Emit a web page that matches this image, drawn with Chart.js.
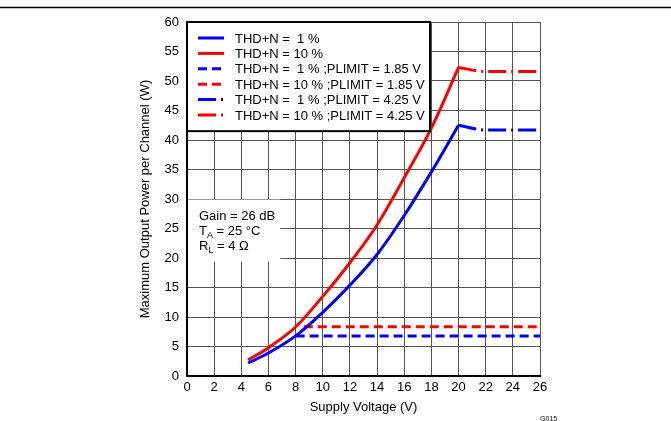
<!DOCTYPE html>
<html>
<head>
<meta charset="utf-8">
<script src="https://cdn.jsdelivr.net/npm/chart.js@4/dist/chart.umd.min.js"></script>
<style>
  html, body { margin: 0; padding: 0; background: #fff; }
  #wrap { width: 671px; height: 421px; }
</style>
</head>
<body>
<div id="wrap"><canvas id="power-chart" width="671" height="421"></canvas></div>
<script>
// supply voltage (V) and max output power (W)
const vCurve = [4.5, 6, 8, 10, 12, 14, 16, 18, 20];
const thd1 = [2.2, 3.9, 6.8, 10.8, 15.4, 20.6, 27.2, 34.6, 42.5];
const thd10 = [2.7, 4.8, 8.3, 13.5, 19.2, 25.6, 33.6, 42, 52.3];

const vLim185 = [8, 26];
const thd1Lim185 = [6.8, 6.8];
const vLim185b = [8.6, 26];
const thd10Lim185 = [8.35, 8.35];

const vLim425 = [20, 22, 26];
const thd1Lim425 = [42.5, 41.7, 41.7];
const thd10Lim425 = [52.3, 51.6, 51.6];

const xTicks = [0, 2, 4, 6, 8, 10, 12, 14, 16, 18, 20, 22, 24, 26];
const yTicks = [0, 5, 10, 15, 20, 25, 30, 35, 40, 45, 50, 55, 60];

const labels = [
  'THD+N =  1 %',
  'THD+N = 10 %',
  'THD+N =  1 % ;PLIMIT = 1.85 V',
  'THD+N = 10 % ;PLIMIT = 1.85 V',
  'THD+N =  1 % ;PLIMIT = 4.25 V',
  'THD+N = 10 % ;PLIMIT = 4.25 V'
];

const BLUE = '#0000ff';
const RED = '#ff0000';
const FONT = 'Liberation Sans, Arial, sans-serif';

function pts(xs, ys) {
  return xs.map((x, i) => ({x: x, y: ys[i]}));
}

function line(label, xs, ys, color, dash) {
  return {
    label: label,
    data: pts(xs, ys),
    borderColor: color,
    backgroundColor: color,
    borderWidth: 3,
    borderDash: dash,
    pointRadius: 0,
    showLine: true,
    fill: false,
    cubicInterpolationMode: 'monotone'
  };
}

const dashShort = [9, 5];
const dashDot = [18, 5, 2, 5];

// legend box + notes drawn on top of the grid
const extras = {
  id: 'extras',
  afterDatasetsDraw(chart) {
    const {ctx, scales: {x, y}} = chart;
    ctx.save();

    // conditions box
    const bx0 = x.getPixelForValue(0), bx1 = x.getPixelForValue(6.8);
    const by0 = y.getPixelForValue(29.9), by1 = y.getPixelForValue(19.4);
    ctx.fillStyle = '#fff';
    ctx.fillRect(bx0 + 1, by0, bx1 - bx0, by1 - by0);
    ctx.fillStyle = '#000';
    ctx.textBaseline = 'alphabetic';
    ctx.textAlign = 'left';
    ctx.font = '13px ' + FONT;
    const tx = 199;
    ctx.fillText('Gain = 26 dB', tx, 220);
    let w;
    ctx.fillText('T', tx, 235);
    w = ctx.measureText('T').width;
    ctx.font = '9px ' + FONT;
    ctx.fillText('A', tx + w, 238);
    w += ctx.measureText('A').width;
    ctx.font = '13px ' + FONT;
    ctx.fillText(' = 25 °C', tx + w, 235);
    ctx.fillText('R', tx, 250);
    w = ctx.measureText('R').width;
    ctx.font = '9px ' + FONT;
    ctx.fillText('L', tx + w, 253);
    w += ctx.measureText('L').width;
    ctx.font = '13px ' + FONT;
    ctx.fillText(' = 4 Ω', tx + w, 250);

    // legend box
    const lx0 = x.getPixelForValue(0), lx1 = x.getPixelForValue(17.9);
    const ly0 = y.getPixelForValue(60), ly1 = y.getPixelForValue(41.5);
    ctx.fillStyle = '#fff';
    ctx.fillRect(lx0, ly0, lx1 - lx0, ly1 - ly0);
    ctx.strokeStyle = '#000';
    ctx.lineWidth = 2;
    ctx.setLineDash([]);
    ctx.strokeRect(lx0, ly0, lx1 - lx0, ly1 - ly0);
    chart.data.datasets.forEach((ds, i) => {
      const cy = 38 + i * 15.4;
      ctx.strokeStyle = ds.borderColor;
      ctx.lineWidth = 3;
      ctx.setLineDash(ds.borderDash || []);
      ctx.beginPath();
      ctx.moveTo(198, cy);
      ctx.lineTo(224, cy);
      ctx.stroke();
      ctx.setLineDash([]);
      ctx.fillStyle = '#000';
      ctx.font = '13px ' + FONT;
      ctx.textBaseline = 'middle';
      ctx.fillText(ds.label, 235, cy + 1);
    });
    ctx.restore();
  },
  afterDraw(chart) {
    const {ctx, chartArea} = chart;
    ctx.save();
    // rule at the top of the page
    ctx.strokeStyle = '#000';
    ctx.lineWidth = 1.5;
    ctx.beginPath();
    ctx.moveTo(0, 7.5);
    ctx.lineTo(chart.width, 7.5);
    ctx.stroke();

    ctx.fillStyle = '#000';
    ctx.font = '13px ' + FONT;
    ctx.textAlign = 'center';
    ctx.textBaseline = 'middle';
    ctx.fillText('Supply Voltage (V)', (chartArea.left + chartArea.right) / 2, 407);
    ctx.save();
    ctx.translate(145, (chartArea.top + chartArea.bottom) / 2);
    ctx.rotate(-Math.PI / 2);
    ctx.fillText('Maximum Output Power per Channel (W)', 0, 0);
    ctx.restore();

    ctx.font = '7px ' + FONT;
    ctx.textAlign = 'left';
    ctx.fillText('G015', 540, 419);
    ctx.restore();
  }
};

new Chart(document.getElementById('power-chart'), {
  type: 'scatter',
  data: {
    datasets: [
      line(labels[0], vCurve, thd1, BLUE, []),
      line(labels[1], vCurve, thd10, RED, []),
      line(labels[2], vLim185, thd1Lim185, BLUE, dashShort),
      line(labels[3], vLim185b, thd10Lim185, RED, dashShort),
      line(labels[4], vLim425, thd1Lim425, BLUE, dashDot),
      line(labels[5], vLim425, thd10Lim425, RED, dashDot)
    ]
  },
  options: {
    responsive: false,
    animation: false,
    layout: {padding: {top: 22, right: 131, left: 0, bottom: 0}},
    plugins: {legend: {display: false}, tooltip: {enabled: false}},
    scales: {
      x: {
        type: 'linear',
        min: 0, max: 26,
        afterFit(scale) { scale.height = 45; },
        afterBuildTicks(scale) { scale.ticks = xTicks.map(v => ({value: v})); },
        grid: {color: '#555', lineWidth: 1, drawTicks: false},
        border: {color: '#000', width: 2},
        ticks: {color: '#000', font: {family: FONT, size: 13}, padding: 4, maxRotation: 0}
      },
      y: {
        type: 'linear',
        min: 0, max: 60,
        afterFit(scale) { scale.width = 187; },
        afterBuildTicks(scale) { scale.ticks = yTicks.map(v => ({value: v})); },
        grid: {color: '#555', lineWidth: 1, drawTicks: false},
        border: {color: '#000', width: 2},
        ticks: {color: '#000', font: {family: FONT, size: 13}, padding: 8}
      }
    }
  },
  plugins: [extras]
});
</script>
</body>
</html>
